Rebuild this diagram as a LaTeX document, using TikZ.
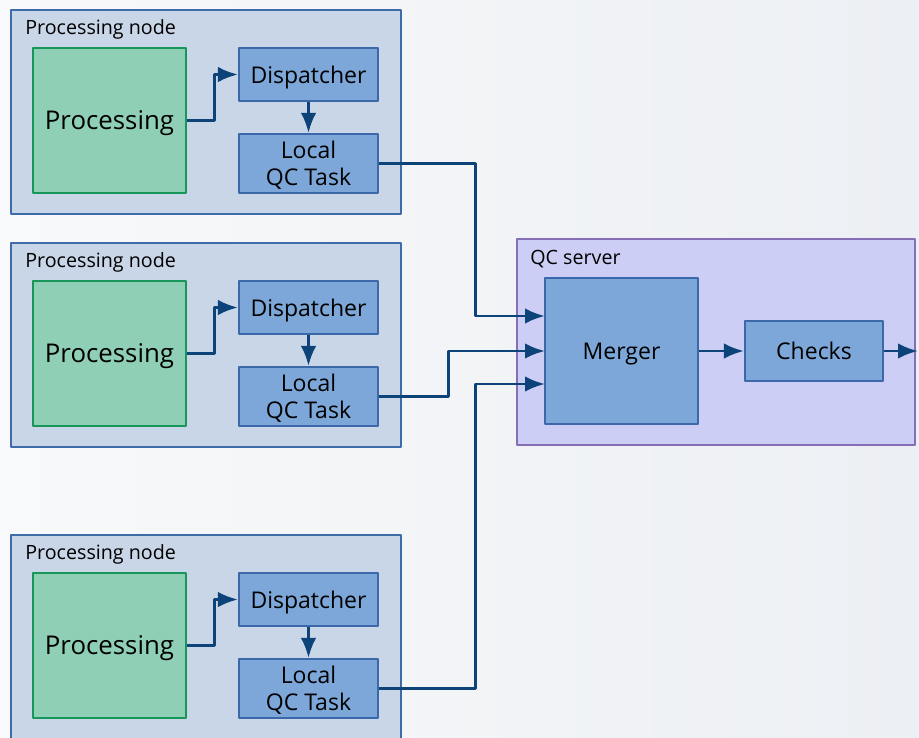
\documentclass[tikz,border=0pt]{standalone}
\usepackage{fontspec}
\setmainfont{Open Sans}
\usetikzlibrary{arrows.meta}
\definecolor{pnfill}{RGB}{200,214,231}
\definecolor{pnline}{RGB}{62,108,168}
\definecolor{taskfill}{RGB}{124,167,216}
\definecolor{taskline}{RGB}{58,104,168}
\definecolor{procfill}{RGB}{142,207,181}
\definecolor{procline}{RGB}{22,150,88}
\definecolor{srvfill}{RGB}{205,206,245}
\definecolor{srvline}{RGB}{134,110,182}
\definecolor{flow}{RGB}{12,68,122}
\tikzset{
  group/.style={draw=pnline,fill=pnfill,line width=1.2pt,anchor=north west},
  task/.style={draw=taskline,fill=taskfill,line width=1.2pt,minimum width=2.78cm,font=\fontsize{13.1}{15.4}\selectfont,align=center,inner sep=0pt,text depth=0pt},
  proc/.style={draw=procline,fill=procfill,line width=1.2pt,minimum width=3.06cm,minimum height=2.9cm,font=\fontsize{14.7}{17}\selectfont,text depth=0pt},
  title/.style={anchor=west,font=\fontsize{11.2}{13}\selectfont,inner sep=0pt},
  flowline/.style={draw=flow,line width=1.7pt,->}
}
\begin{document}
\begin{tikzpicture}[x=0.02cm,y=-0.02cm, line join=round, >={Latex[length=4mm,width=3.1mm]}]
\useasboundingbox(0,0)rectangle(919,737);
\shade[left color={rgb,255:red,248;green,249;blue,250},right color={rgb,255:red,236;green,239;blue,243}](0,0)rectangle(919,737);
% the three processing nodes
\foreach \i/\o/\h in{1/0/4.08cm,2/233/4.08cm,3/525/4.4cm}{
\node[group,minimum width=7.8cm,minimum height=\h](pn\i)at(10,9+\o){};
\node[title](pnt\i)at(25,29+\o){Processing node};
\node[proc](proc\i)at(109.5,120.5+\o){Processing};
\node[task,minimum height=1.06cm](disp\i)at(308.5,74.5+\o){Dispatcher};
\node[task,minimum height=1.18cm](local\i)at(308.5,163.5+\o){Local\\QC Task};
\draw[flowline](proc\i.east)--++(27,0)|-(disp\i.west);
\draw[flowline](disp\i)--(local\i);
}
% server side
\node[draw=srvline,fill=srvfill,line width=1.2pt,minimum width=7.96cm,minimum height=4.12cm,anchor=north west](srv)at(516,238){};
\node[title](srvt)at(530,259){QC server};
\node[task,minimum width=3.06cm,minimum height=2.92cm](merger)at(621.5,351){Merger};
\node[task,minimum width=2.76cm,minimum height=1.2cm](checks)at(814,351){Checks};
\coordinate(in1)at(545,316);
\coordinate(in2)at(545,351);
\coordinate(in3)at(545,384);
\coordinate(out)at(918,351);
\draw[flowline](local1.east)--++(96,0)|-(in1);
\draw[flowline](local2.east)--++(69,0)|-(in2);
\draw[flowline](local3.east)--++(96,0)|-(in3);
\draw[flowline](merger)--(checks);
\draw[flowline](checks)--(out);
\end{tikzpicture}
\end{document}
